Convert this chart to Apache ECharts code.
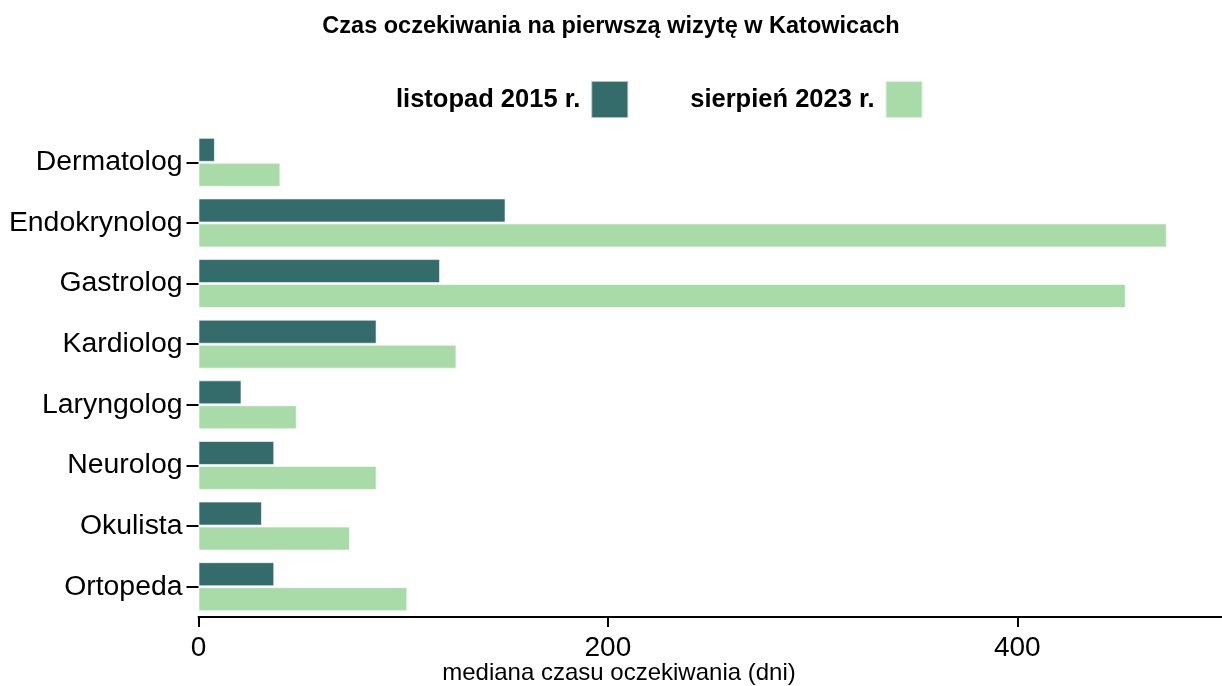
<!DOCTYPE html>
<html>
<head>
<meta charset="utf-8">
<script src="https://cdn.jsdelivr.net/npm/echarts@6/dist/echarts.min.js"></script>
<style>
html,body{margin:0;padding:0;background:#fff;}
#chart{width:1222px;height:686px;}
</style>
</head>
<body>
<div id="chart"></div>
<script>
const categories = ['Dermatolog','Endokrynolog','Gastrolog','Kardiolog','Laryngolog','Neurolog','Okulista','Ortopeda'];
const seriesNames = ['listopad 2015 r.','sierpień 2023 r.'];
const values2015 = [8, 150, 118, 87, 21, 37, 31, 37];
const values2023 = [40, 473, 453, 126, 48, 87, 74, 102];
const xTicks = [0, 200, 400];

const font = '"Liberation Sans", Arial, sans-serif';
const chart = echarts.init(document.getElementById('chart'), null, {renderer:'canvas'});
chart.setOption({
  backgroundColor:'#ffffff',
  animation:false,
  title:[{
    text:'Czas oczekiwania na pierwszą wizytę w Katowicach',
    left:'center', top:10,
    textStyle:{fontFamily:font, fontWeight:'bold', fontSize:23.5, color:'#000'}
  },{
    text:'mediana czasu oczekiwania (dni)',
    left:619, top:661, textAlign:'center', padding:0,
    textStyle:{fontFamily:font, fontWeight:'normal', fontSize:24, color:'#000'}
  }],
  legend:{
    left:396, top:80, padding:0,
    align:'right',
    itemWidth:37, itemHeight:37, itemGap:61,
    icon:'rect',
    textStyle:{fontFamily:font, fontWeight:'bold', fontSize:25.5, color:'#000', padding:[0,6,0,0]},
    data:seriesNames
  },
  grid:{left:198.5, right:0, top:132, height:485, containLabel:false},
  xAxis:{
    type:'value', min:0, max:500, interval:200,
    axisLine:{show:true, lineStyle:{color:'#000', width:2}},
    axisTick:{show:true, length:10, lineStyle:{color:'#000', width:2}},
    axisLabel:{fontFamily:font, fontSize:28, color:'#000', margin:17, showMaxLabel:false,
      formatter:function(v){return xTicks.indexOf(v)>=0 ? String(v) : '';}},
    splitLine:{show:false}
  },
  yAxis:{
    type:'category', data:categories, inverse:true,
    axisLine:{show:false},
    axisTick:{show:true, length:12, alignWithLabel:true, lineStyle:{color:'#000', width:2}},
    axisLabel:{fontFamily:font, fontSize:28.4, color:'#000', margin:16},
    splitLine:{show:false}
  },
  series:[
    {name:seriesNames[0], type:'bar', data:values2015, barWidth:24, barGap:'4%',
     itemStyle:{color:'#346B6B', borderColor:'rgba(255,255,255,0.6)', borderWidth:1}},
    {name:seriesNames[1], type:'bar', data:values2023, barWidth:24, barGap:'4%',
     itemStyle:{color:'#A8DBA8', borderColor:'rgba(255,255,255,0.6)', borderWidth:1}}
  ]
});
</script>
</body>
</html>
